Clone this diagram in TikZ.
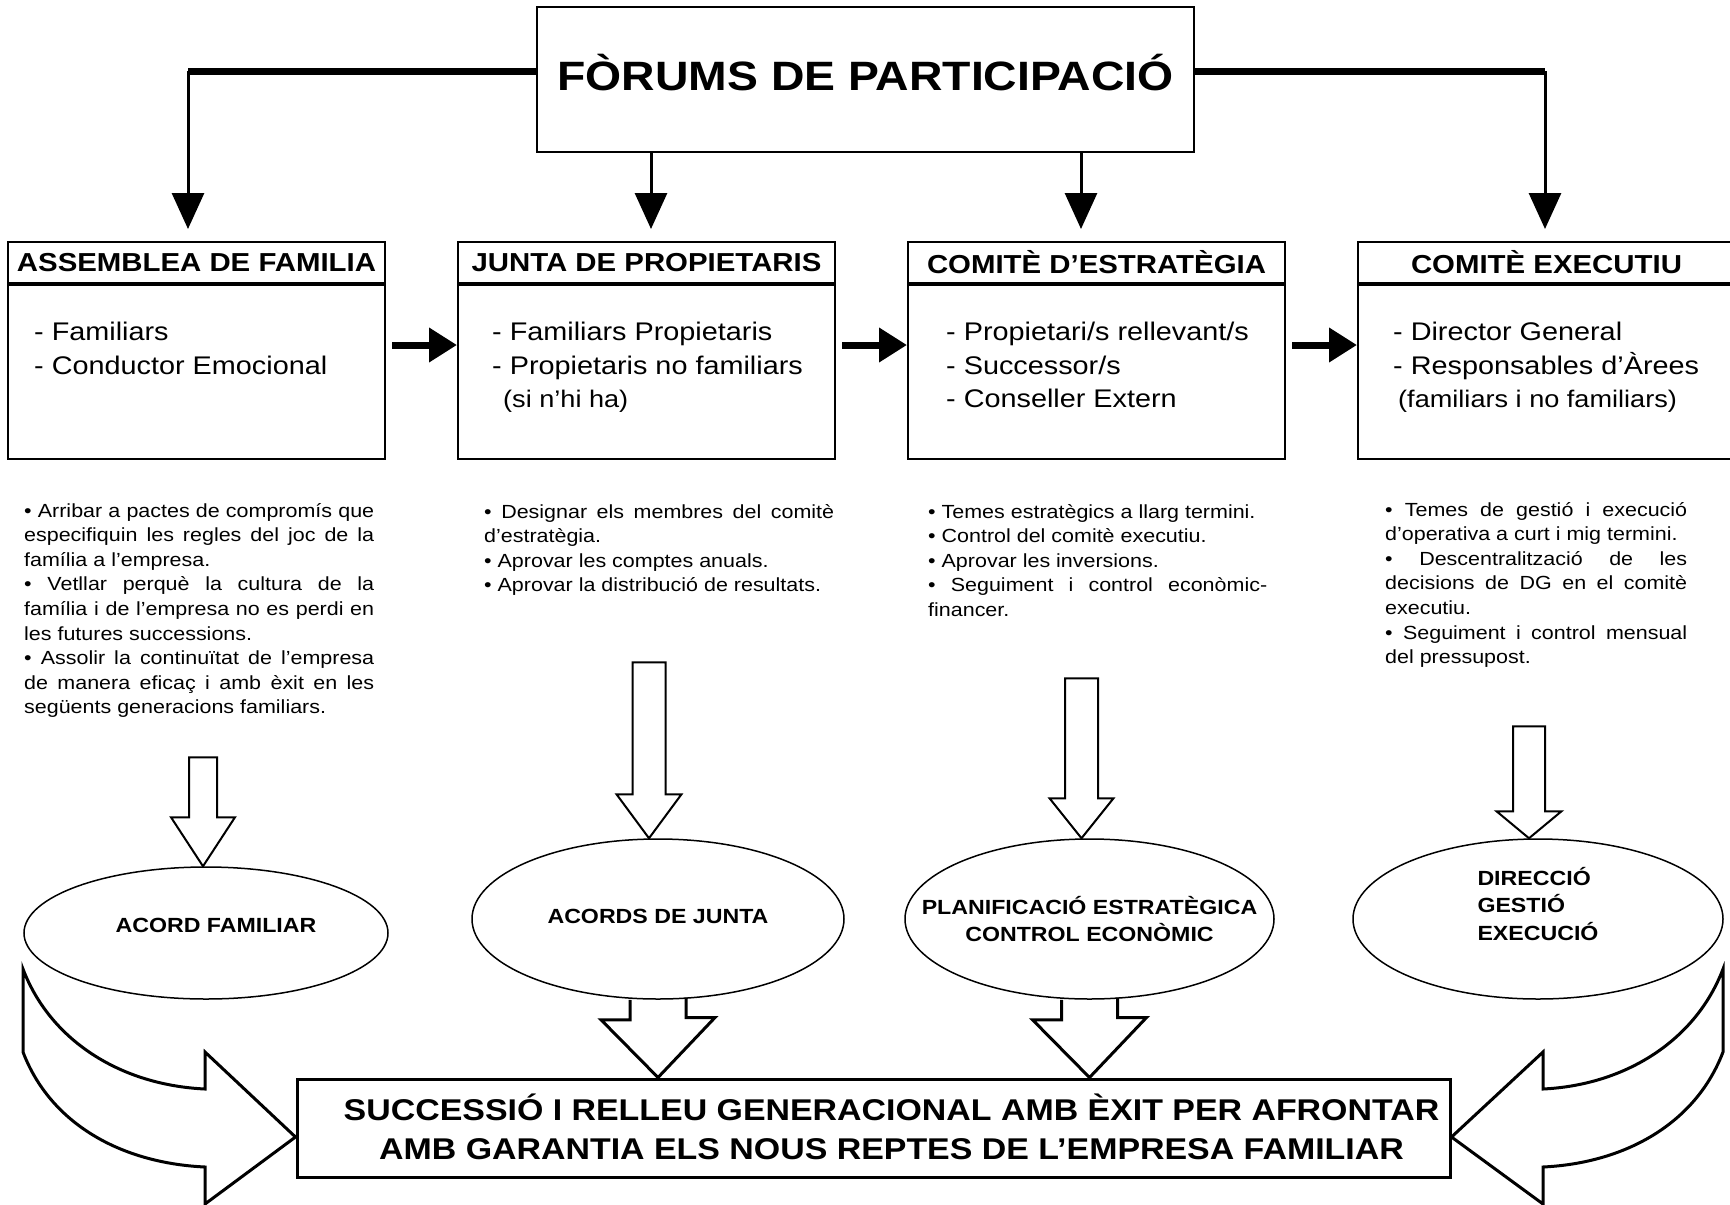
\documentclass[tikz,border=0pt]{standalone}
\usepackage{fontspec}
\setmainfont{Liberation Sans}[FakeStretch=1.13]
\usetikzlibrary{arrows.meta, positioning, shapes.geometric}
\setlength{\parindent}{0pt}
\tolerance=10000
\hbadness=10000
\hyphenpenalty=10000

\begin{document}
\begin{tikzpicture}[x=1pt, y=-1pt,
    every node/.style={inner sep=0pt},
    forum/.style={draw, line width=2pt, minimum width=657pt, minimum height=145pt},
    forumtext/.style={font=\fontsize{41}{48}\selectfont\bfseries},
    boxhead/.style={draw, line width=2pt, minimum width=377pt, minimum height=41pt, font=\fontsize{26}{30}\selectfont\bfseries},
    boxbody/.style={draw, line width=2pt, minimum width=377pt, minimum height=174pt},
    members/.style={align=left, font=\fontsize{25.5}{34}\selectfont},
    tasks/.style={align=justify, font=\fontsize{19}{24.6}\selectfont},
    outcome/.style={draw, ellipse, line width=1.5pt, minimum height=160pt},
    outcometext/.style={align=center, font=\fontsize{20.5}{27.5}\selectfont\bfseries},
    goal/.style={draw, line width=3pt, minimum width=1153pt, minimum height=98pt},
    goaltext/.style={align=center, font=\fontsize{30}{39}\selectfont\bfseries},
    trunk/.style={line width=7pt},
    droparrow/.style={line width=3pt, -{Triangle[length=36pt,width=32pt]}, shorten >=12pt},
    nextarrow/.style={line width=7pt, -{Triangle[length=28pt,width=33pt]}},
    blockarrow/.style={line width=2pt, line join=miter},
    bigarrow/.style={line width=3pt, line join=miter},
]
    \useasboundingbox (0,0) rectangle (1730,1205);

    % Forum
    \node[forum] (forum) at (865.5,79.5) {};
    \node[forumtext] (ftitle) at ([yshift=7pt]forum) {FÒRUMS DE PARTICIPACIÓ};

    % Comites
    \node[boxhead] (h1) at (196.5,262.5) {ASSEMBLEA DE FAMILIA};
    \node[boxhead, right=71pt of h1] (h2) {JUNTA DE PROPIETARIS};
    \node[boxhead, right=71pt of h2] (h3) {COMITÈ D’ESTRATÈGIA};
    \node[boxhead, right=71pt of h3] (h4) {COMITÈ EXECUTIU};
    \node[boxbody, below=0pt of h1] (b1) {};
    \node[boxbody, below=0pt of h2] (b2) {};
    \node[boxbody, below=0pt of h3] (b3) {};
    \node[boxbody, below=0pt of h4] (b4) {};

    \node[members, below right=38pt and 27pt of b1.north west] (m1) {- Familiars\\- Conductor Emocional};
    \node[members, below right=38pt and 35pt of b2.north west] (m2) {- Familiars Propietaris\\- Propietaris no familiars\\[-1pt]
        {\fontsize{24}{33}\selectfont\hspace{11pt}(si n’hi ha)}};
    \node[members, below right=38pt and 39pt of b3.north west] (m3) {- Propietari/s rellevant/s\\- Successor/s\\[-1pt]- Conseller Extern};
    \node[members, below right=38pt and 36pt of b4.north west] (m4) {- Director General\\- Responsables d’Àrees\\[-1pt]
        {\fontsize{24}{33}\selectfont\hspace{5pt}(familiars i no familiars)}};

    % Fletxes de dalt
    \coordinate (k1) at (188,71);
    \coordinate (k2) at (651,71);
    \coordinate (k3) at (1081,71);
    \coordinate (k4) at (1545,71);
    \draw[trunk] (forum.west |- k1) -- (k1);
    \draw[trunk] (forum.east |- k4) -- (k4);
    \draw[droparrow] (k1) -- (k1 |- h1.north);
    \draw[droparrow] (k2 |- forum.south) -- (k2 |- h2.north);
    \draw[droparrow] (k3 |- forum.south) -- (k3 |- h3.north);
    \draw[droparrow] (k4) -- (k4 |- h4.north);

    \draw[nextarrow] ([xshift=6pt,yshift=27pt]b1.east) -- ([yshift=27pt]b2.west);
    \draw[nextarrow] ([xshift=6pt,yshift=27pt]b2.east) -- ([yshift=27pt]b3.west);
    \draw[nextarrow] ([xshift=6pt,yshift=27pt]b3.east) -- ([yshift=27pt]b4.west);

    % Funcions
    \node[tasks, text width=350pt, below right=43pt and 17pt of b1.south west] (n1) {• Arribar a pactes de compromís que\linebreak especifiquin les regles del joc de la\linebreak família a l’empresa.\\
        • Vetllar perquè la cultura de la\linebreak família i de l’empresa no es perdi en\linebreak les futures successions.\\
        • Assolir la continuïtat de l’empresa\linebreak de manera eficaç i amb èxit en les\linebreak següents generacions familiars.};
    \node[tasks, text width=350pt, below right=44pt and 27pt of b2.south west] (n2) {• Designar els membres del comitè\linebreak d’estratègia.\\
        • Aprovar les comptes anuals.\\
        • Aprovar la distribució de resultats.};
    \node[tasks, text width=339pt, below right=44pt and 21pt of b3.south west] (n3) {• Temes estratègics a llarg termini.\\
        • Control del comitè executiu.\\
        • Aprovar les inversions.\\
        • Seguiment i control econòmic-\linebreak financer.};
    \node[tasks, text width=302pt, below right=42pt and 28pt of b4.south west] (n4) {• Temes de gestió i execució\linebreak d’operativa a curt i mig termini.\\
        • Descentralització de les\linebreak decisions de DG en el comitè\linebreak executiu.\\
        • Seguiment i control mensual\linebreak del pressupost.};

    % Resultats
    \node[outcome, minimum width=364pt, minimum height=132pt] (e1) at (206,933) {};
    \node[outcome, minimum width=372pt] (e2) at (658,919) {};
    \node[outcome, minimum width=369pt] (e3) at (1089.5,919) {};
    \node[outcome, minimum width=370pt] (e4) at (1538,919) {};
    \node[outcometext] (t1) at ([xshift=10pt,yshift=8pt]e1) {ACORD FAMILIAR};
    \node[outcometext] (t2) at ([yshift=3pt]e2) {ACORDS DE JUNTA};
    \node[outcometext] (t3) at (e3) {PLANIFICACIÓ ESTRATÈGICA\\CONTROL ECONÒMIC};
    \node[outcometext, align=left] (t4) at ([yshift=15pt]e4) {DIRECCIÓ\\GESTIÓ\\EXECUCIÓ};

    \draw[blockarrow] ([xshift=-3pt]e1.north) -- ++(-32,-49) -- ++(18,0) -- ++(0,-60) -- ++(28,0) -- ++(0,60) -- ++(18,0) -- cycle;
    \draw[blockarrow] ([xshift=-9pt]e2.north) -- ++(-32.5,-44) -- ++(16,0) -- ++(0,-132) -- ++(33,0) -- ++(0,132) -- ++(16,0) -- cycle;
    \draw[blockarrow] ([xshift=-8pt]e3.north) -- ++(-32,-40) -- ++(15.5,0) -- ++(0,-120) -- ++(33,0) -- ++(0,120) -- ++(15.5,0) -- cycle;
    \draw[blockarrow] ([xshift=-9pt]e4.north) -- ++(-32.5,-27) -- ++(16.5,0) -- ++(0,-85) -- ++(32,0) -- ++(0,85) -- ++(16.5,0) -- cycle;

    % Successio
    \node[goal] (goal) at (873.5,1128) {};
    \node[goaltext] (gtext) at ([xshift=18pt,yshift=1pt]goal) {SUCCESSIÓ I RELLEU GENERACIONAL AMB ÈXIT PER AFRONTAR\\AMB GARANTIA ELS NOUS REPTES DE L’EMPRESA FAMILIAR};

    \coordinate (g2) at (e2.south |- goal.north);
    \coordinate (g3) at (e3.south |- goal.north);
    \draw[bigarrow] ([xshift=-28pt]e2.south) -- ++(0,20) -- ++(-29,0) -- (g2) -- ++(57,-60) -- ++(-29,0) -- ++(0,-20);
    \draw[bigarrow] ([xshift=-28pt]e3.south) -- ++(0,20) -- ++(-29,0) -- (g3) -- ++(57,-60) -- ++(-29,0) -- ++(0,-20);

    \draw[bigarrow] (23,969) .. controls (50,1040) and (120,1085) .. (205,1089) -- (205,1052)
        -- ([yshift=-9pt]goal.west) -- (205,1204) -- (205,1167) .. controls (120,1163) and (50,1123) .. (23,1052) -- cycle;
    \draw[bigarrow] (1723,969) .. controls (1696,1040) and (1626,1085) .. (1543,1089) -- (1543,1052)
        -- ([yshift=-9pt]goal.east) -- (1543,1204) -- (1543,1167) .. controls (1626,1163) and (1696,1123) .. (1723,1052) -- cycle;
\end{tikzpicture}
\end{document}
